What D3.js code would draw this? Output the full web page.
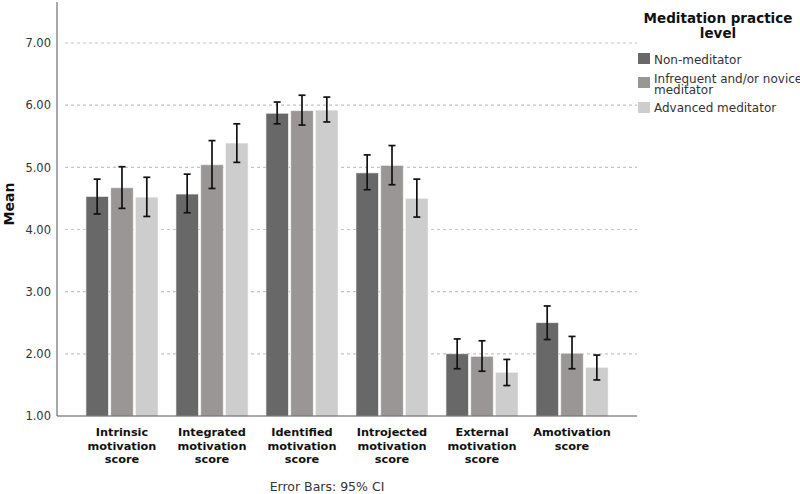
<!DOCTYPE html>
<html><head><meta charset="utf-8">
<script src="https://cdn.jsdelivr.net/npm/d3@7"></script>
<style>body{margin:0;background:#fff;} svg{display:block;font-family:"DejaVu Sans",sans-serif;}</style>
</head><body><svg id="c" width="800" height="494"></svg>
<script>
const categories = ["Intrinsic motivation score","Integrated motivation score","Identified motivation score","Introjected motivation score","External motivation score","Amotivation score"];
const categoryLines = [["Intrinsic","motivation","score"],["Integrated","motivation","score"],["Identified","motivation","score"],["Introjected","motivation","score"],["External","motivation","score"],["Amotivation","score"]];
const groups = ["Non-meditator","Infrequent and/or novice meditator","Advanced meditator"];
const meanNon = [4.53,4.57,5.87,4.91,2.00,2.50];
const meanInf = [4.67,5.04,5.91,5.03,1.96,2.01];
const meanAdv = [4.52,5.39,5.92,4.50,1.70,1.78];
const lowNon = [4.25,4.27,5.70,4.64,1.76,2.23];
const highNon = [4.81,4.89,6.05,5.20,2.24,2.77];
const lowInf = [4.34,4.66,5.68,4.72,1.72,1.76];
const highInf = [5.01,5.43,6.16,5.35,2.21,2.28];
const lowAdv = [4.21,5.08,5.73,4.20,1.49,1.58];
const highAdv = [4.84,5.70,6.13,4.81,1.91,1.98];
const yTicks = [1,2,3,4,5,6,7];
const colors = ["#686868","#9a9696","#cdcdcd"];

(function(){
const means=[meanNon,meanInf,meanAdv], lows=[lowNon,lowInf,lowAdv], highs=[highNon,highInf,highAdv];
const svg = d3.select("#c");
const pl=57, pr=637, pt=2, pb=416;
const y = d3.scaleLinear().domain([1,7]).range([416,43]);
const x0 = d3.scaleBand().domain(categories).range([pl,pr]).paddingInner(0.2).paddingOuter(0.322);
const x1 = d3.scaleBand().domain(groups).range([0,x0.bandwidth()]).paddingInner(0.1);

svg.append("g").selectAll("line").data(yTicks.slice(1)).join("line")
  .attr("x1",pl+8).attr("x2",pr).attr("y1",d=>y(d)).attr("y2",d=>y(d))
  .attr("stroke","#c4c4c4").attr("stroke-dasharray","3,3").attr("stroke-width",1.2);

const gs = svg.append("g").selectAll("g").data(categories).join("g")
  .attr("transform",d=>`translate(${x0(d)},0)`);
groups.forEach((g,gi)=>{
  gs.append("rect").attr("x",x1(g)).attr("width",x1.bandwidth())
    .attr("y",(d,i)=>y(means[gi][i])).attr("height",(d,i)=>y(1)-y(means[gi][i]))
    .attr("fill",colors[gi]).attr("stroke","#f0f0f0").attr("stroke-width",0.6);
});
groups.forEach((g,gi)=>{
  const cx = x1(g)+x1.bandwidth()/2;
  gs.append("line").attr("x1",cx).attr("x2",cx).attr("y1",(d,i)=>y(lows[gi][i])).attr("y2",(d,i)=>y(highs[gi][i]))
    .attr("stroke","#111").attr("stroke-width",1.7);
  [lows,highs].forEach(arr=>{
    gs.append("line").attr("x1",cx-3.5).attr("x2",cx+3.5).attr("y1",(d,i)=>y(arr[gi][i])).attr("y2",(d,i)=>y(arr[gi][i]))
      .attr("stroke","#111").attr("stroke-width",1.7);
  });
});

const ya = svg.append("g").attr("transform",`translate(${pl},0)`)
  .call(d3.axisLeft(y).tickValues(yTicks).tickFormat(d3.format(".2f")).tickSize(0).tickPadding(6));
ya.select(".domain").remove();
ya.selectAll("text").attr("font-family","DejaVu Sans").attr("font-size",11.5).attr("fill","#333");
svg.append("line").attr("x1",pl).attr("x2",pl).attr("y1",pt).attr("y2",pb).attr("stroke","#555").attr("stroke-width",1);
svg.append("line").attr("x1",pl).attr("x2",pr).attr("y1",pb).attr("y2",pb).attr("stroke","#555").attr("stroke-width",1);

const xa = svg.append("g").attr("transform",`translate(0,${pb})`)
  .call(d3.axisBottom(x0).tickSize(0).tickFormat(""));
xa.select(".domain").remove();
xa.selectAll(".tick").each(function(d,i){
  const t = d3.select(this).append("text").attr("fill","#111").attr("font-weight","bold")
    .attr("font-size",11.3).attr("text-anchor","middle").attr("font-family","DejaVu Sans");
  categoryLines[i].forEach((l,k)=>t.append("tspan").attr("x",0).attr("y",20+k*13.5).text(l));
});

svg.append("text").attr("transform","translate(14,204) rotate(-90)").attr("text-anchor","middle")
  .attr("font-weight","bold").attr("font-size",14).attr("fill","#111").text("Mean");
svg.append("text").attr("x",327).attr("y",491).attr("text-anchor","middle").attr("font-size",12.5).attr("fill","#333").text("Error Bars: 95% CI");

const lg = svg.append("g");
lg.append("text").attr("x",718).attr("y",23).attr("text-anchor","middle").attr("font-weight","bold").attr("font-size",13.5).attr("fill","#111").text("Meditation practice");
lg.append("text").attr("x",718).attr("y",38).attr("text-anchor","middle").attr("font-weight","bold").attr("font-size",13.5).attr("fill","#111").text("level");
const legY = [53,77,102];
groups.forEach((g,gi)=>{
  lg.append("rect").attr("x",638).attr("y",legY[gi]).attr("width",12).attr("height",11).attr("fill",colors[gi]);
});
lg.append("text").attr("x",654).attr("y",64).attr("font-size",12).attr("fill","#333").text(groups[0]);
lg.append("text").attr("x",654).attr("y",83).attr("font-size",12).attr("fill","#333").text("Infrequent and/or novice");
lg.append("text").attr("x",654).attr("y",94).attr("font-size",12).attr("fill","#333").text("meditator");
lg.append("text").attr("x",654).attr("y",112).attr("font-size",12).attr("fill","#333").text(groups[2]);
})();
</script></body></html>
